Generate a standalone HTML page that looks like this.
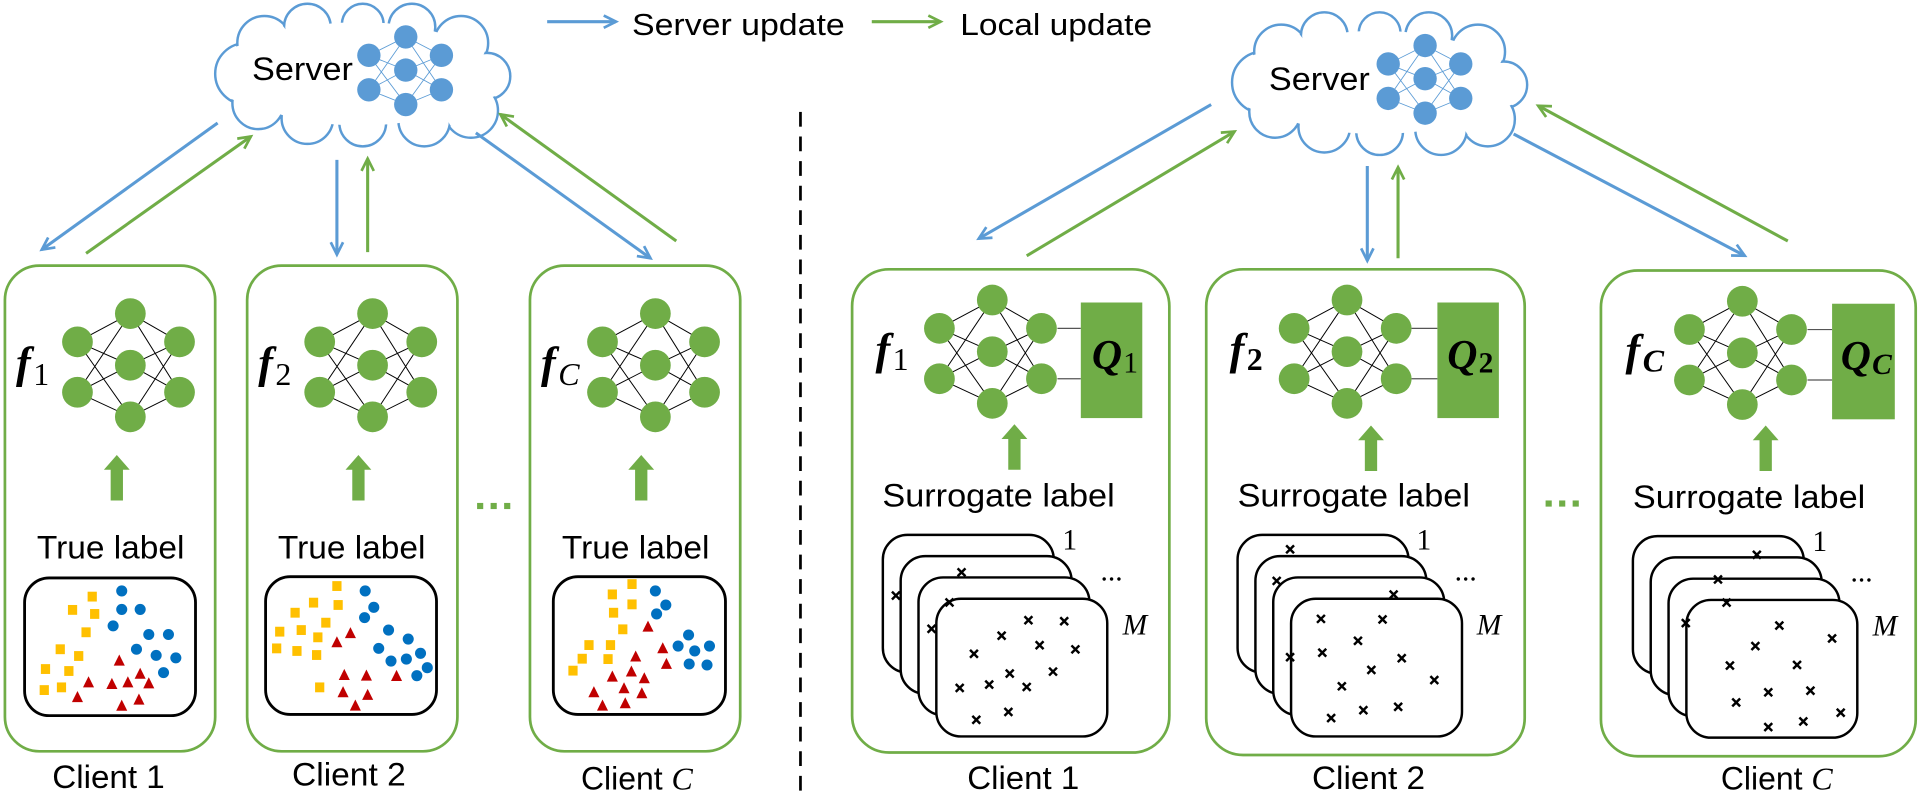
<!DOCTYPE html>
<html><head><meta charset="utf-8"><style>
html,body{margin:0;padding:0;background:#fff;}
svg{display:block;}
text{font-family:"Liberation Sans",sans-serif;fill:#000;}
.s{font-family:"Liberation Serif",serif;}
</style></head><body>
<svg width="1928" height="801" viewBox="0 0 1568 651.4" xmlns="http://www.w3.org/2000/svg">
<defs>
<marker id="mb" markerUnits="userSpaceOnUse" markerWidth="16" markerHeight="16" refX="11" refY="6" orient="auto"><path d="M1,1 L11,6 L1,11" fill="none" stroke="#5B9BD5" stroke-width="2.2"/></marker>
<marker id="mg" markerUnits="userSpaceOnUse" markerWidth="16" markerHeight="16" refX="11" refY="6" orient="auto"><path d="M1,1 L11,6 L1,11" fill="none" stroke="#70AD47" stroke-width="2.2"/></marker>
<g id="cloud">
 <g fill="#fff" stroke="#5B9BD5" stroke-width="2">
  <circle cx="200" cy="60" r="25"/><circle cx="215" cy="35" r="22"/><circle cx="250" cy="22" r="19"/>
  <circle cx="295" cy="20" r="17"/><circle cx="335" cy="22" r="19"/><circle cx="375" cy="35" r="22"/>
  <circle cx="396" cy="62" r="19"/><circle cx="383" cy="90" r="22"/><circle cx="345" cy="98" r="21"/>
  <circle cx="295" cy="100" r="19"/><circle cx="250" cy="96" r="21"/><circle cx="210" cy="84" r="21"/>
 </g>
 <g fill="#fff">
  <circle cx="200" cy="60" r="23.5"/><circle cx="215" cy="35" r="20.5"/><circle cx="250" cy="22" r="17.5"/>
  <circle cx="295" cy="20" r="15.5"/><circle cx="335" cy="22" r="17.5"/><circle cx="375" cy="35" r="20.5"/>
  <circle cx="396" cy="62" r="17.5"/><circle cx="383" cy="90" r="20.5"/><circle cx="345" cy="98" r="19.5"/>
  <circle cx="295" cy="100" r="17.5"/><circle cx="250" cy="96" r="19.5"/><circle cx="210" cy="84" r="19.5"/>
  <ellipse cx="293" cy="60" rx="105" ry="42"/>
 </g>
</g>
<g id="bnn">
 <g stroke="#5B9BD5" stroke-width="0.7">
  <path d="M0,15 L30,0 M0,15 L30,27 M0,15 L30,55 M0,43 L30,0 M0,43 L30,27 M0,43 L30,55 M30,0 L59,15 M30,27 L59,15 M30,55 L59,15 M30,0 L59,43 M30,27 L59,43 M30,55 L59,43"/>
 </g>
 <g fill="#5B9BD5">
  <ellipse cx="0" cy="15" rx="9.5" ry="9.5"/><ellipse cx="0" cy="43" rx="9.5" ry="9.5"/>
  <ellipse cx="30" cy="0" rx="9.5" ry="9.5"/><ellipse cx="30" cy="27" rx="9.5" ry="9.5"/><ellipse cx="30" cy="55" rx="9.5" ry="9.5"/>
  <ellipse cx="59" cy="15" rx="9.5" ry="9.5"/><ellipse cx="59" cy="43" rx="9.5" ry="9.5"/>
 </g>
</g>
<g id="nn">
 <path d="M0,23 L43,0 M0,23 L43,42 M0,23 L43,84 M0,64 L43,0 M0,64 L43,42 M0,64 L43,84 M43,0 L83,23 M43,42 L83,23 M43,84 L83,23 M43,0 L83,64 M43,42 L83,64 M43,84 L83,64" stroke="#000" stroke-width="0.8"/>
 <g fill="#70AD47">
  <circle cx="0" cy="23" r="12.5"/><circle cx="0" cy="64" r="12.5"/>
  <circle cx="43" cy="0" r="12.5"/><circle cx="43" cy="42" r="12.5"/><circle cx="43" cy="84" r="12.5"/>
  <circle cx="83" cy="23" r="12.5"/><circle cx="83" cy="64" r="12.5"/>
 </g>
</g>
<path id="uparr" d="M-5,0 L-5,-25 L-10.5,-25 L0,-37 L10.5,-25 L5,-25 L5,0 Z" fill="#70AD47"/>
<rect id="sq" x="-3.75" y="-4" width="7.5" height="8" fill="#FFC000"/>
<circle id="dt" cx="0" cy="0" r="4.5" fill="#0070C0"/>
<polygon id="tr" points="0,-5 4.5,4 -4.5,4" fill="#C00000"/>
<path id="x" d="M-3.2,-3.2 L3.2,3.2 M3.2,-3.2 L-3.2,3.2" stroke="#000" stroke-width="2"/>
<g id="cards" fill="#fff" stroke="#000" stroke-width="2">
 <rect x="0" y="0" width="139" height="112" rx="20"/>
 <rect x="14.5" y="17.3" width="139" height="112" rx="20"/>
 <rect x="29" y="34.6" width="139" height="112" rx="20"/>
 <rect x="43.5" y="51.9" width="139" height="112" rx="20"/>
</g>
</defs>

<line x1="445" y1="17.6" x2="501" y2="17.6" stroke="#5B9BD5" stroke-width="2.5" marker-end="url(#mb)"/>
<text x="514" y="28.5" font-size="25" textLength="173" lengthAdjust="spacingAndGlyphs">Server update</text>
<line x1="709" y1="17.6" x2="765" y2="17.6" stroke="#70AD47" stroke-width="2.5" marker-end="url(#mg)"/>
<text x="781" y="28.5" font-size="25" textLength="156" lengthAdjust="spacingAndGlyphs">Local update</text>

<line x1="651" y1="91" x2="651" y2="651" stroke="#000" stroke-width="2.2" stroke-dasharray="12 8"/>

<use href="#cloud"/>
<text x="205" y="65" font-size="26" textLength="82" lengthAdjust="spacingAndGlyphs">Server</text>
<use href="#bnn" x="300" y="30"/>

<use href="#cloud" transform="translate(827,7)"/>
<text x="1032" y="73" font-size="26" textLength="82" lengthAdjust="spacingAndGlyphs">Server</text>
<use href="#bnn" x="1129" y="37"/>

<g stroke-width="2.5" fill="none">
<line x1="177" y1="100" x2="34" y2="203" stroke="#5B9BD5" marker-end="url(#mb)"/>
<line x1="70" y1="206" x2="204" y2="111" stroke="#70AD47" marker-end="url(#mg)"/>
<line x1="274" y1="130" x2="274" y2="207" stroke="#5B9BD5" marker-end="url(#mb)"/>
<line x1="299" y1="205" x2="299" y2="129" stroke="#70AD47" marker-end="url(#mg)"/>
<line x1="387" y1="108" x2="529" y2="210" stroke="#5B9BD5" marker-end="url(#mb)"/>
<line x1="550" y1="196" x2="407" y2="93" stroke="#70AD47" marker-end="url(#mg)"/>
<line x1="985" y1="85" x2="796" y2="194" stroke="#5B9BD5" marker-end="url(#mb)"/>
<line x1="835" y1="208" x2="1004" y2="107" stroke="#70AD47" marker-end="url(#mg)"/>
<line x1="1112" y1="135" x2="1112" y2="212" stroke="#5B9BD5" marker-end="url(#mb)"/>
<line x1="1137" y1="210" x2="1137" y2="136" stroke="#70AD47" marker-end="url(#mg)"/>
<line x1="1231" y1="109" x2="1419" y2="208" stroke="#5B9BD5" marker-end="url(#mb)"/>
<line x1="1454" y1="196" x2="1251" y2="86" stroke="#70AD47" marker-end="url(#mg)"/>
</g>

<g fill="none" stroke="#70AD47" stroke-width="2.2">
<rect x="4" y="216" width="171" height="395" rx="28"/>
<rect x="201" y="216" width="171" height="395" rx="28"/>
<rect x="431" y="216" width="171" height="395" rx="28"/>
</g>
<use href="#nn" x="63" y="255"/>
<use href="#nn" x="260" y="255"/>
<use href="#nn" x="490" y="255"/>
<text class="s" x="13" y="307" font-size="36" font-style="italic" font-weight="bold">f<tspan font-size="26" font-style="normal" font-weight="normal" dx="2" dy="6">1</tspan></text>
<text class="s" x="210" y="307" font-size="36" font-style="italic" font-weight="bold">f<tspan font-size="26" font-style="normal" font-weight="normal" dx="2" dy="6">2</tspan></text>
<text class="s" x="440" y="307" font-size="36" font-style="italic" font-weight="bold">f<tspan font-size="26" font-style="italic" font-weight="normal" dx="2" dy="6">C</tspan></text>
<use href="#uparr" x="95" y="407"/>
<use href="#uparr" x="291.5" y="407"/>
<use href="#uparr" x="521.5" y="407"/>
<text x="30" y="454" font-size="26" textLength="120" lengthAdjust="spacingAndGlyphs">True label</text>
<text x="226" y="454" font-size="26" textLength="120" lengthAdjust="spacingAndGlyphs">True label</text>
<text x="457" y="454" font-size="26" textLength="120" lengthAdjust="spacingAndGlyphs">True label</text>
<g fill="#70AD47"><rect x="388" y="409" width="5" height="5"/><rect x="399" y="409" width="5" height="5"/><rect x="410" y="409" width="5" height="5"/></g>

<g fill="#fff" stroke="#000" stroke-width="2.3">
<rect x="20" y="470" width="139" height="112" rx="20"/>
<rect x="216" y="469" width="139" height="112" rx="20"/>
<rect x="450" y="469" width="140" height="112" rx="20"/>
</g>
<use href="#sq" x="75" y="485.2"/><use href="#sq" x="59" y="496"/><use href="#sq" x="77" y="499.3"/><use href="#sq" x="70" y="514.2"/><use href="#sq" x="49" y="528"/><use href="#sq" x="64" y="533.5"/><use href="#sq" x="37" y="544.1"/><use href="#sq" x="56" y="545.7"/><use href="#sq" x="36" y="561.2"/><use href="#sq" x="50" y="559"/>
<use href="#dt" x="99" y="480.6"/><use href="#dt" x="99" y="495.6"/><use href="#dt" x="114" y="495.6"/><use href="#dt" x="92" y="509"/><use href="#dt" x="121" y="516"/><use href="#dt" x="137" y="516"/><use href="#dt" x="111" y="528"/><use href="#dt" x="127" y="533"/><use href="#dt" x="143" y="535"/><use href="#dt" x="133" y="547"/>
<use href="#tr" x="97" y="537.3"/><use href="#tr" x="72" y="555"/><use href="#tr" x="91" y="556.3"/><use href="#tr" x="104" y="555"/><use href="#tr" x="114" y="548"/><use href="#tr" x="121" y="555.8"/><use href="#tr" x="63" y="567"/><use href="#tr" x="99" y="574"/><use href="#tr" x="113" y="569"/>
<use href="#sq" x="274" y="476.6"/><use href="#sq" x="255" y="490.1"/><use href="#sq" x="275" y="492"/><use href="#sq" x="240" y="498.3"/><use href="#sq" x="265" y="506.4"/><use href="#sq" x="227.5" y="513.7"/><use href="#sq" x="245" y="512.4"/><use href="#sq" x="258.5" y="518.3"/><use href="#sq" x="225" y="527.3"/><use href="#sq" x="241.5" y="529.4"/><use href="#sq" x="257.5" y="532.7"/><use href="#sq" x="260" y="559"/>
<use href="#dt" x="297" y="480.6"/><use href="#dt" x="304" y="493.9"/><use href="#dt" x="296.5" y="502.3"/><use href="#dt" x="316" y="512.4"/><use href="#dt" x="332" y="519.7"/><use href="#dt" x="308" y="527.3"/><use href="#dt" x="318" y="537.6"/><use href="#dt" x="330.5" y="536"/><use href="#dt" x="342" y="531.3"/><use href="#dt" x="347.5" y="543"/><use href="#dt" x="339" y="549.5"/>
<use href="#tr" x="285" y="515"/><use href="#tr" x="274" y="522.4"/><use href="#tr" x="280" y="549"/><use href="#tr" x="298" y="549.5"/><use href="#tr" x="322.5" y="549.8"/><use href="#tr" x="279" y="563"/><use href="#tr" x="299" y="565.2"/><use href="#tr" x="289" y="573.9"/>
<use href="#sq" x="514" y="475"/><use href="#sq" x="498" y="483.4"/><use href="#sq" x="514" y="491.5"/><use href="#sq" x="499" y="498.3"/><use href="#sq" x="506.5" y="511.8"/><use href="#sq" x="479" y="524.6"/><use href="#sq" x="496.5" y="524.6"/><use href="#sq" x="473.5" y="535.7"/><use href="#sq" x="494.5" y="536"/><use href="#sq" x="466" y="545.4"/>
<use href="#dt" x="533" y="480.6"/><use href="#dt" x="541.5" y="492"/><use href="#dt" x="534" y="499.3"/><use href="#dt" x="560" y="516.4"/><use href="#dt" x="551.5" y="525.4"/><use href="#dt" x="565" y="529.4"/><use href="#dt" x="577" y="525.4"/><use href="#dt" x="560.5" y="540"/><use href="#dt" x="575" y="540.8"/>
<use href="#tr" x="527" y="509.7"/><use href="#tr" x="539" y="527.3"/><use href="#tr" x="517" y="534"/><use href="#tr" x="542" y="540"/><use href="#tr" x="513.5" y="546.2"/><use href="#tr" x="498" y="550.3"/><use href="#tr" x="524" y="551.7"/><use href="#tr" x="507.5" y="559.8"/><use href="#tr" x="483" y="563"/><use href="#tr" x="522" y="563.9"/><use href="#tr" x="490" y="573.9"/><use href="#tr" x="508.5" y="572"/>

<text x="42.5" y="641" font-size="26" textLength="91.5" lengthAdjust="spacingAndGlyphs">Client 1</text>
<text x="237.5" y="639" font-size="26" textLength="92.5" lengthAdjust="spacingAndGlyphs">Client 2</text>
<text x="472.5" y="642" font-size="26">Client <tspan class="s" font-style="italic">C</tspan></text>

<g fill="none" stroke="#70AD47" stroke-width="2.2">
<rect x="693" y="219" width="258" height="393" rx="30"/>
<rect x="981" y="219" width="259" height="395" rx="30"/>
<rect x="1302" y="220" width="256" height="395" rx="30"/>
</g>
<use href="#nn" x="764" y="244"/>
<use href="#nn" x="1052.5" y="244"/>
<use href="#nn" x="1374" y="245"/>
<g stroke="#555" stroke-width="1">
<line x1="860" y1="267" x2="879" y2="267"/><line x1="860" y1="308" x2="879" y2="308"/>
<line x1="1148" y1="267" x2="1169" y2="267"/><line x1="1148" y1="308" x2="1169" y2="308"/>
<line x1="1470" y1="268" x2="1490" y2="268"/><line x1="1470" y1="309" x2="1490" y2="309"/>
</g>
<g fill="#70AD47">
<rect x="879" y="246" width="50" height="94"/>
<rect x="1169" y="246" width="50" height="94"/>
<rect x="1490" y="247" width="51" height="94"/>
</g>
<text class="s" x="888" y="300" font-size="34" font-style="italic" font-weight="bold">Q<tspan font-size="24" font-style="normal" font-weight="normal" dx="1" dy="3">1</tspan></text>
<text class="s" x="1177" y="300" font-size="34" font-style="italic" font-weight="bold">Q<tspan font-size="24" font-style="normal" font-weight="bold" dx="1" dy="3">2</tspan></text>
<text class="s" x="1497" y="301" font-size="34" font-style="italic" font-weight="bold">Q<tspan font-size="24" font-style="italic" font-weight="bold" dx="1" dy="3">C</tspan></text>
<text class="s" x="712" y="296" font-size="36" font-style="italic" font-weight="bold">f<tspan font-size="26" font-style="normal" font-weight="normal" dx="2" dy="5">1</tspan></text>
<text class="s" x="1000" y="296" font-size="36" font-style="italic" font-weight="bold">f<tspan font-size="26" font-style="normal" font-weight="bold" dx="2" dy="5">2</tspan></text>
<text class="s" x="1322" y="297" font-size="36" font-style="italic" font-weight="bold">f<tspan font-size="26" font-style="italic" font-weight="bold" dx="2" dy="5">C</tspan></text>
<use href="#uparr" x="825" y="382"/>
<use href="#uparr" x="1115" y="383"/>
<use href="#uparr" x="1436" y="383"/>
<text x="717.6" y="412" font-size="26" textLength="189" lengthAdjust="spacingAndGlyphs">Surrogate label</text>
<text x="1006.5" y="412" font-size="26" textLength="189" lengthAdjust="spacingAndGlyphs">Surrogate label</text>
<text x="1328" y="413" font-size="26" textLength="189" lengthAdjust="spacingAndGlyphs">Surrogate label</text>
<g fill="#70AD47"><rect x="1257" y="407" width="5" height="5"/><rect x="1268" y="407" width="5" height="5"/><rect x="1279" y="407" width="5" height="5"/></g>

<use href="#cards" x="718" y="435"/>
<use href="#cards" x="1006.5" y="435"/>
<use href="#cards" x="1328" y="436"/>
<g class="s" font-size="24">
<text class="s" x="864" y="447">1</text><text class="s" x="895" y="472">...</text><text class="s" x="913" y="516" font-style="italic">M</text>
<text class="s" x="1152" y="447">1</text><text class="s" x="1183" y="472">...</text><text class="s" x="1201" y="516" font-style="italic">M</text>
<text class="s" x="1474" y="448">1</text><text class="s" x="1505" y="473">...</text><text class="s" x="1523" y="517" font-style="italic">M</text>
</g>
<use href="#x" x="836.4" y="504.4"/><use href="#x" x="865.5" y="505.2"/><use href="#x" x="814.6" y="517"/><use href="#x" x="845.5" y="524.7"/><use href="#x" x="874.6" y="528.1"/><use href="#x" x="792.1" y="531.7"/><use href="#x" x="821.2" y="547.8"/><use href="#x" x="856.4" y="546.2"/><use href="#x" x="780.5" y="559.5"/><use href="#x" x="804.5" y="556.7"/><use href="#x" x="835" y="558.7"/><use href="#x" x="820.1" y="579"/><use href="#x" x="794" y="585.4"/>
<use href="#x" x="728.6" y="484.3"/><use href="#x" x="782" y="465.4"/><use href="#x" x="757.6" y="511.4"/><use href="#x" x="772.2" y="489.9"/>
<use href="#x" x="1074.3" y="503.3"/><use href="#x" x="1124.4" y="503.8"/><use href="#x" x="1104.4" y="521.1"/><use href="#x" x="1075.4" y="530.8"/><use href="#x" x="1140" y="535.3"/><use href="#x" x="1115.3" y="544.8"/><use href="#x" x="1091.3" y="558.1"/><use href="#x" x="1166.5" y="553.1"/><use href="#x" x="1108.8" y="577.6"/><use href="#x" x="1137.1" y="574.8"/><use href="#x" x="1082.6" y="584"/>
<use href="#x" x="1049.2" y="446.7"/><use href="#x" x="1038.3" y="472.4"/><use href="#x" x="1133.4" y="483.5"/><use href="#x" x="1049.2" y="534.5"/>
<use href="#x" x="1447.1" y="508.7"/><use href="#x" x="1490" y="519.2"/><use href="#x" x="1427.6" y="525.4"/><use href="#x" x="1406.9" y="541.3"/><use href="#x" x="1461.5" y="540.8"/><use href="#x" x="1438.1" y="563"/><use href="#x" x="1472.4" y="561.7"/><use href="#x" x="1412" y="571.3"/><use href="#x" x="1497" y="579.6"/><use href="#x" x="1466.6" y="586.7"/><use href="#x" x="1438.1" y="591.3"/>
<use href="#x" x="1428.8" y="451.2"/><use href="#x" x="1397.2" y="471.2"/><use href="#x" x="1404.2" y="490"/><use href="#x" x="1371" y="506.7"/>

<text x="786.7" y="641.5" font-size="26" textLength="91" lengthAdjust="spacingAndGlyphs">Client 1</text>
<text x="1067" y="641.5" font-size="26" textLength="92" lengthAdjust="spacingAndGlyphs">Client 2</text>
<text x="1399.5" y="642" font-size="26">Client <tspan class="s" font-style="italic">C</tspan></text>
</svg>
</body></html>
